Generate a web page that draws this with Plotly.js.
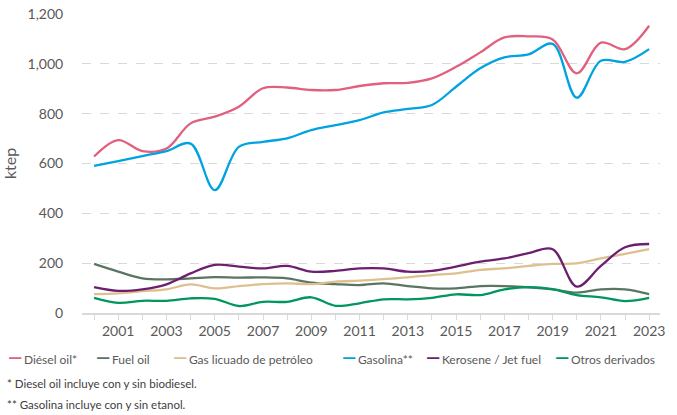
<!DOCTYPE html>
<html>
<head>
<meta charset="utf-8">
<script src="https://cdn.plot.ly/plotly-3.0.1.min.js"></script>
<style>html,body{margin:0;padding:0;background:#fff;}#chart{width:677px;height:415px;}</style>
</head>
<body>
<div id="chart"></div>
<script>
const years = [2000,2001,2002,2003,2004,2005,2006,2007,2008,2009,2010,2011,2012,2013,2014,2015,2016,2017,2018,2019,2020,2021,2022,2023];
const dieselOil = [628,694,650,660,761,788,828,902,905,895,895,911,922,924,942,988,1046,1106,1110,1098,962,1085,1059,1153];
const fuelOil = [197,166,139,135,139,144,142,143,139,122,116,112,119,108,99,99,108,108,103,95,82,95,95,76];
const glp = [76,79,88,95,115,99,108,116,119,116,126,130,136,143,152,159,173,179,189,197,199,219,237,256];
const gasolina = [590,610,630,650,680,493,667,687,701,734,754,774,805,819,835,908,982,1026,1038,1080,864,1012,1008,1059];
const kerosene = [104,89,95,115,159,193,186,179,189,166,169,179,179,166,169,186,206,219,240,256,106,189,264,277];
const otros = [61,41,49,49,59,57,28,45,45,63,29,39,55,55,61,75,72,95,104,96,72,63,48,61];
const seriesNames = ['Diésel oil*','Fuel oil','Gas licuado de petróleo','Gasolina**','Kerosene / Jet fuel','Otros derivados'];
const xTickVals = [2001,2003,2005,2007,2009,2011,2013,2015,2017,2019,2021,2023];
const xTickText = ['2001','2003','2005','2007','2009','2011','2013','2015','2017','2019','2021','2023'];
const yTickVals = [0,200,400,600,800,1000,1200];
const yTickText = ['0','200','400','600','800','1,000','1,200'];
const notes = ['* Diesel oil incluye con y sin biodiesel.','** Gasolina incluye con y sin etanol.'];

const colors = ['#e0607e','#5b7562','#dcc08f','#00a3e0','#6b1f6e','#00965e'];
const legendPx = [6, 94, 171, 340, 424, 553];

const W = 677, H = 415, ML = 82, MR = 17, MT = 14, MB = 102;
const plotW = W - ML - MR, plotH = H - MT - MB;
const font = "Lato, 'Open Sans', sans-serif";

const data = [dieselOil, fuelOil, glp, gasolina, kerosene, otros].map((vals,i)=>({
  x: years, y: vals, name: seriesNames[i], type:'scatter', mode:'lines', showlegend:false,
  line:{color:colors[i], width:2.3, shape:'spline', smoothing:1}
}));

const legendY = (MT + plotH - 357) / plotH;
const annotations = seriesNames.map((nm,i)=>({
  xref:'paper', yref:'paper', x:(legendPx[i]-ML)/plotW, y:legendY, xanchor:'left', yanchor:'middle',
  showarrow:false, align:'left',
  text:'<span style="color:'+colors[i]+';font-size:18px;font-weight:bold">—</span>\u2009'+nm,
  font:{size:12, color:'#595959', family:font}
}));
notes.forEach((t,i)=>annotations.push({
  xref:'paper', yref:'paper', x:(5-ML)/plotW, y:(MT+plotH-(383+i*21))/plotH, xanchor:'left', yanchor:'middle',
  text:t, showarrow:false, font:{size:11.5, color:'#404040', family:font}
}));

const layout = {
  width:W, height:H,
  margin:{l:ML, r:MR, t:MT, b:MB},
  paper_bgcolor:'#fff', plot_bgcolor:'#fff',
  font:{family:font, color:'#595959', size:14},
  showlegend:false,
  xaxis:{range:[1999.5,2023.45], tickmode:'array', tickvals:xTickVals, ticktext:xTickText,
    showgrid:false, zeroline:false, showline:true, linecolor:'#d9d9d9', linewidth:1.5,
    ticks:'outside', ticklen:5, tickcolor:'#d9d9d9', tickfont:{size:14, color:'#595959'},
    minor:{tick0:2000, dtick:1, ticks:'outside', ticklen:5, tickcolor:'#d9d9d9', showgrid:false}},
  yaxis:{range:[0,1200], tickmode:'array', tickvals:yTickVals, ticktext:yTickText,
    showgrid:true, gridcolor:'#d9d9d9', griddash:'dash', gridwidth:1, zeroline:false, showline:false,
    ticks:'outside', ticklen:15, tickcolor:'rgba(0,0,0,0)', tickfont:{size:14, color:'#595959'},
    title:{text:'ktep', font:{size:16, color:'#595959'}, standoff:16}},
  annotations: annotations
};
Plotly.newPlot('chart', data, layout, {displayModeBar:false, staticPlot:true});
</script>
</body>
</html>
